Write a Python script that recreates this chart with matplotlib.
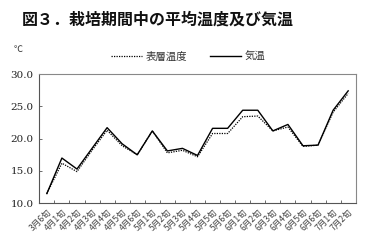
import matplotlib
matplotlib.use("Agg")
import matplotlib.pyplot as plt
import numpy as np

categories = ["3月6旬", "4月1旬", "4月2旬", "4月3旬", "4月4旬", "4月5旬", "4月6旬",
              "5月1旬", "5月2旬", "5月3旬", "5月4旬", "5月5旬", "5月6旬",
              "6月1旬", "6月2旬", "6月3旬", "6月4旬", "6月5旬", "6月6旬",
              "7月1旬", "7月2旬"]
surface_temp = [11.5, 16.2, 14.9, 18.2, 21.3, 18.9, 17.5, 21.2, 17.8, 18.2, 17.2,
                20.8, 20.8, 23.4, 23.5, 21.2, 21.8, 18.8, 19.0, 24.1, 27.0]
air_temp = [11.5, 17.0, 15.3, 18.5, 21.7, 19.2, 17.5, 21.2, 18.1, 18.5, 17.4,
            21.6, 21.6, 24.4, 24.4, 21.2, 22.2, 18.9, 19.0, 24.4, 27.4]
y_ticks = [10.0, 15.0, 20.0, 25.0, 30.0]

plt.rcParams['font.family'] = ['Noto Sans CJK JP', 'DejaVu Sans']

fig = plt.figure(figsize=(3.69, 2.42), dpi=100)
ax = fig.add_axes([0.1065, 0.16, 0.8575, 0.534])

x = np.arange(len(categories))
l1, = ax.plot(x, surface_temp, color='black', linestyle=(0, (1, 1)), linewidth=0.9)
l2, = ax.plot(x, air_temp, color='black', linestyle='-', linewidth=1.0)

ax.set_xlim(-0.5, len(categories) - 0.5)
ax.set_ylim(10, 30)
ax.set_yticks(y_ticks)
ax.set_yticklabels([f"{v:.1f}" for v in y_ticks], family='DejaVu Serif', fontsize=7.5,
                   color='#222222')
ax.set_xticks(x)
ax.set_xticklabels(categories, rotation=45, ha='right', va='top',
                   rotation_mode='anchor', fontsize=6.2, color='#444444')
ax.tick_params(axis='x', length=0, pad=3)
ax.set_xticks(np.arange(0.5, len(categories) - 0.5, 1), minor=True)
ax.tick_params(axis='x', which='minor', direction='in', length=2.5, width=0.6, color='#555555')
ax.tick_params(axis='y', direction='in', length=2.5, width=0.6, color='#555555', pad=4)

for s in ax.spines.values():
    s.set_color('#888888')
    s.set_linewidth(0.8)
ax.spines['left'].set_color('#555555')
ax.spines['bottom'].set_color('#555555')

fig.text(22 / 369, 1 - 20 / 242, "図３．栽培期間中の平均温度及び気温",
         fontsize=11.5, fontweight='bold', ha='left', va='center', color='#111111')
fig.text(14 / 369, 1 - 50 / 242, "℃", fontsize=6.5, ha='left', va='center', color='#333333')

fig.legend([l1, l2], ["表層温度", "気温"], loc='center',
           bbox_to_anchor=(188 / 369, 1 - 57 / 242), ncol=2, frameon=False,
           fontsize=7.5, handlelength=3.0, handletextpad=0.3, columnspacing=2.2,
           borderpad=0, labelcolor='#333333')

fig.savefig("out.png", dpi=100)
